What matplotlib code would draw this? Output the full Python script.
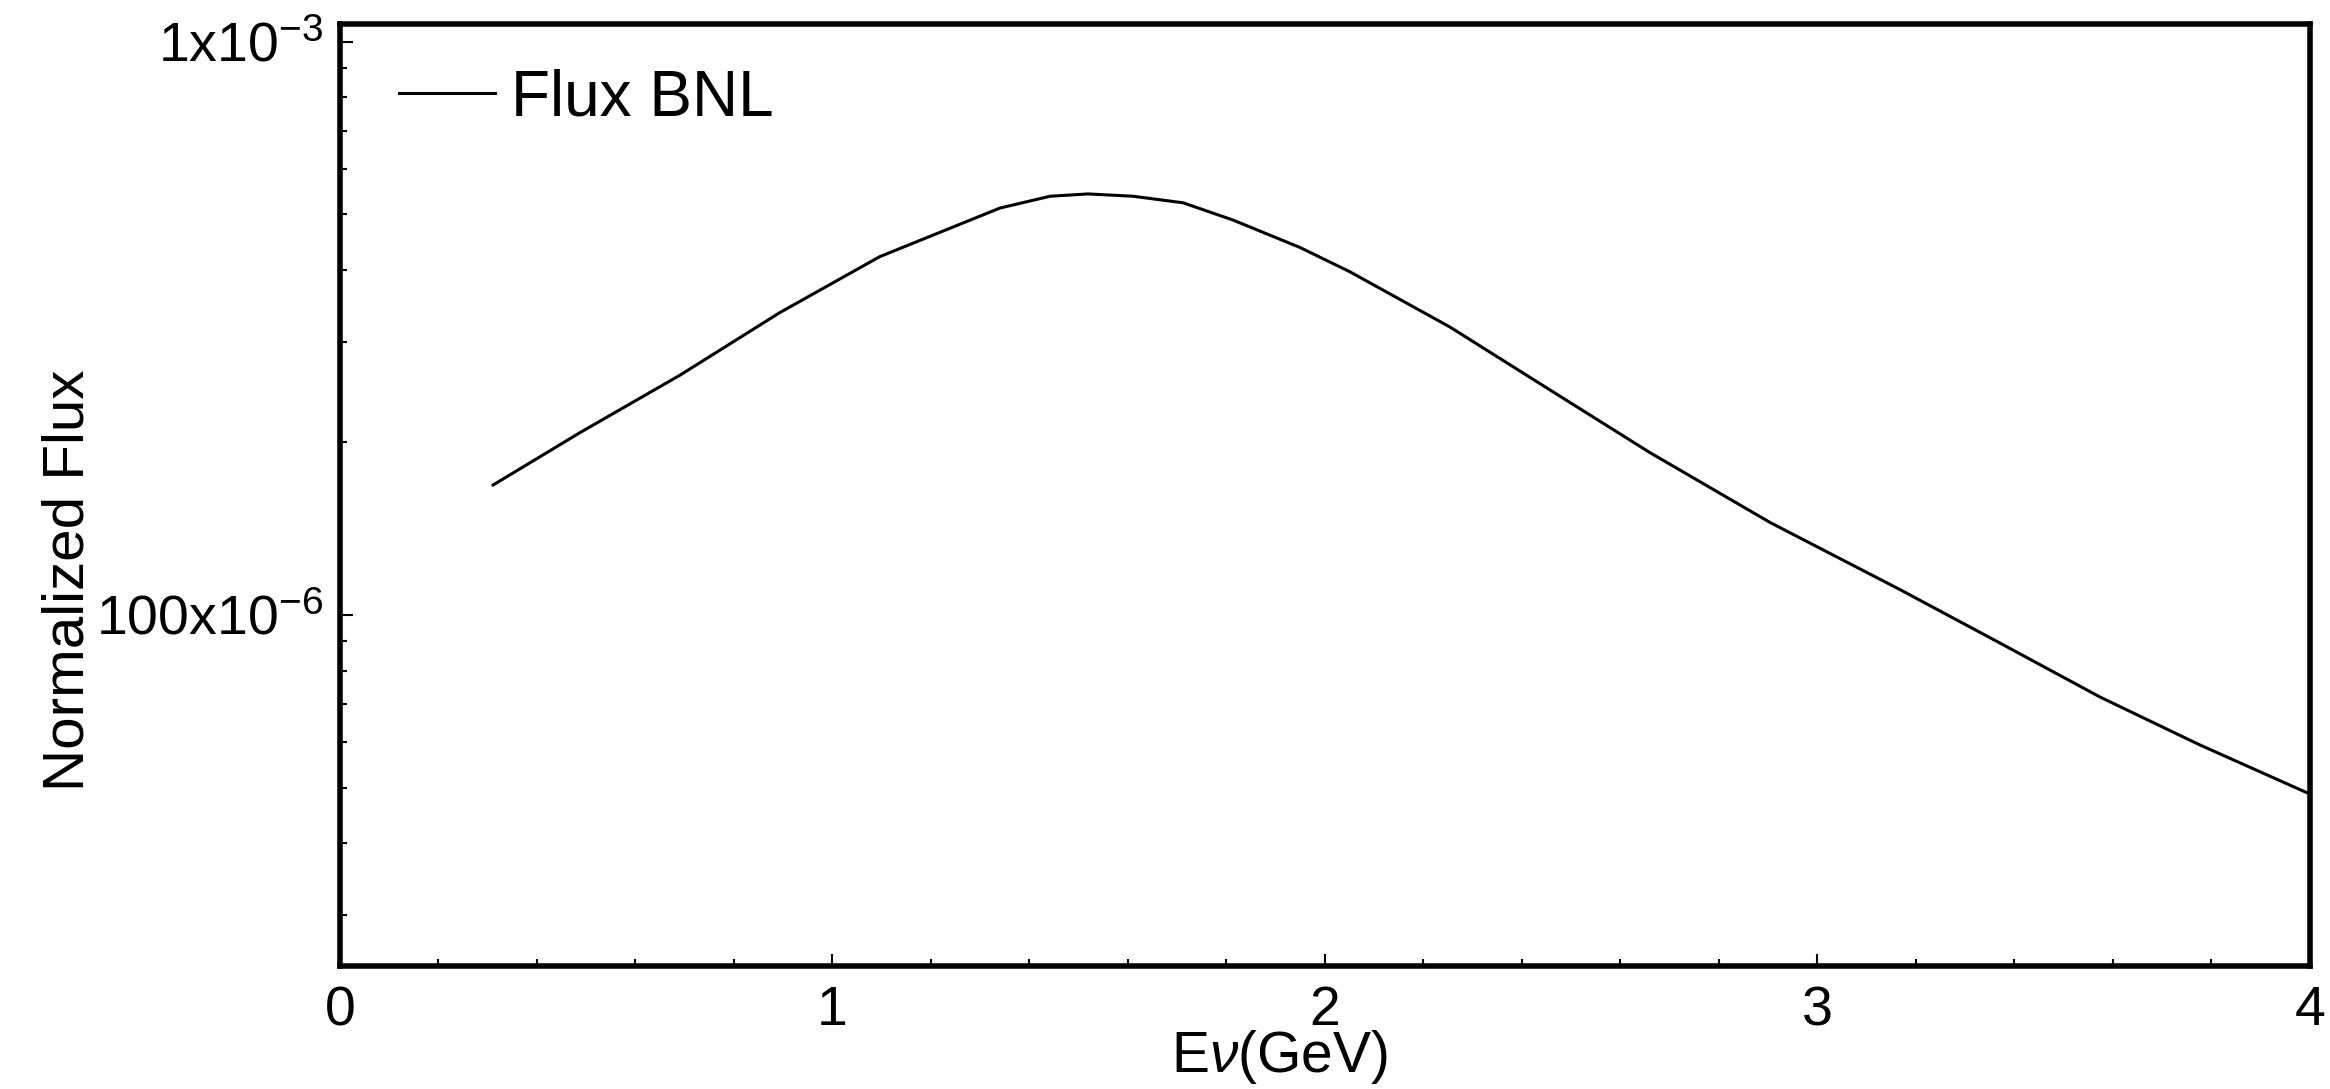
import numpy as np
import matplotlib
matplotlib.use("Agg")
import matplotlib.pyplot as plt
from matplotlib.ticker import FixedLocator, FixedFormatter, LogLocator, NullFormatter, MultipleLocator

# values (E in GeV, normalized flux)
energy = [0.311, 0.487, 0.690, 0.893, 1.096, 1.340, 1.442, 1.519, 1.610, 1.712,
          1.813, 1.949, 2.051, 2.254, 2.457, 2.660, 2.904, 3.168, 3.371, 3.574,
          3.777, 4.0]
flux = [1.686e-4, 2.08e-4, 2.62e-4, 3.37e-4, 4.22e-4, 5.13e-4, 5.38e-4, 5.43e-4,
        5.38e-4, 5.24e-4, 4.89e-4, 4.38e-4, 3.97e-4, 3.18e-4, 2.47e-4, 1.92e-4,
        1.45e-4, 1.107e-4, 8.93e-5, 7.19e-5, 5.93e-5, 4.87e-5]
xticks = [0, 1, 2, 3, 4]
yticks = [1e-4, 1e-3]
ytick_labels = [r"100x10$^{\mathregular{-6}}$", r"1x10$^{\mathregular{-3}}$"]

plt.rcParams["font.family"] = ["Liberation Sans", "DejaVu Sans"]
plt.rcParams["mathtext.fontset"] = "custom"
plt.rcParams["mathtext.rm"] = "Liberation Sans"
plt.rcParams["mathtext.it"] = "Liberation Sans:italic"

fig = plt.figure(figsize=(23.3, 10.89), dpi=100)
ax = fig.add_axes([0.1459, 0.1129, 0.8455, 0.8651])

ax.plot(energy, flux, color="black", linewidth=2.2, label="Flux BNL")

ax.set_yscale("log")
ax.set_xlim(0, 4)
ax.set_ylim(2.44e-5, 1.075e-3)

ax.xaxis.set_major_locator(FixedLocator(xticks))
ax.xaxis.set_minor_locator(MultipleLocator(0.2))
ax.yaxis.set_major_locator(FixedLocator(yticks))
ax.yaxis.set_major_formatter(FixedFormatter(ytick_labels))
ax.yaxis.set_minor_locator(LogLocator(base=10, subs=np.arange(2, 10)))
ax.yaxis.set_minor_formatter(NullFormatter())

ax.tick_params(which="both", direction="in", top=False, right=False, labelsize=40, width=1.5)
ax.tick_params(which="major", length=9)
ax.tick_params(which="minor", length=5)
ax.tick_params(axis="y", pad=12)
ax.tick_params(axis="x", pad=14)

for sp in ax.spines.values():
    sp.set_linewidth(4)

ax.set_xlabel(r"E$\mathit{\nu}$(GeV)", fontsize=41, labelpad=0)
ax.xaxis.set_label_coords((1280 - 340) / 1970, -0.066)
ax.set_ylabel("Normalized Flux", fontsize=42)
ax.yaxis.set_label_coords(-0.124, 0.41)

ax.legend(loc="upper left", bbox_to_anchor=(0.03, 0.953), frameon=False,
          fontsize=46, handlelength=1.5, handletextpad=0.25, borderpad=0, borderaxespad=0)

fig.savefig("out.png", dpi=100)
